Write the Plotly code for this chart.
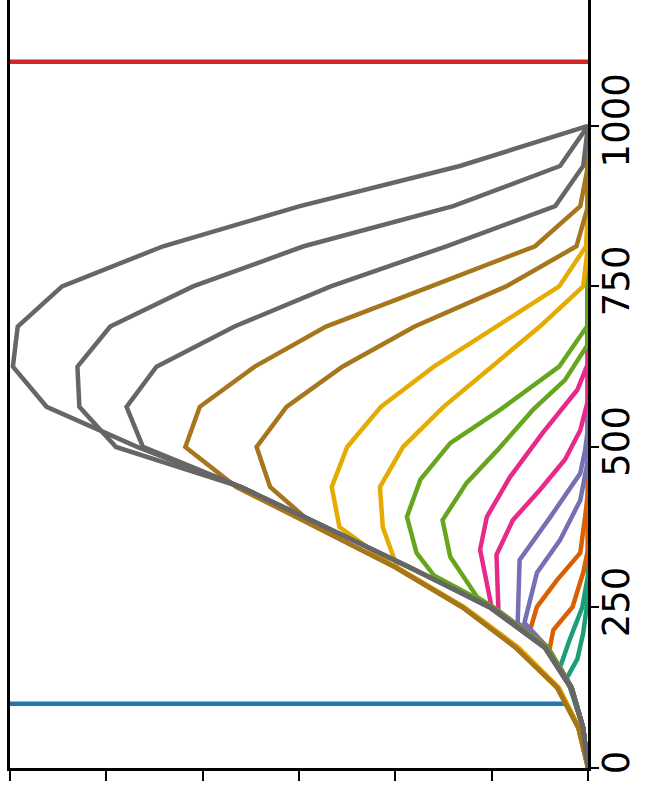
import numpy as np
import plotly.graph_objects as go

# Common sample positions used by the outer curves
t_grid = [0, 62.5, 125, 187.5, 250, 312.5, 375, 437.5, 500, 562.5,
          625, 687.5, 750, 812.5, 875, 937.5, 1000]

# Inner curves carry their own sample positions (innermost first)
t_00 = [0, 62.5, 140, 170, 210, 265]
v_00 = [0, .05, .22, .11, .05, 0]
t_01 = [0, 62.5, 125, 157, 200, 250, 300]
v_01 = [0, .05, .17, .29, .19, .06, 0]
t_02 = [0, 62.5, 125, 184, 215, 251, 304, 340]
v_02 = [0, .05, .17, .40, .36, .16, .05, 0]
t_03 = [0, 62.5, 125, 187.5, 215, 251, 293, 335, 391, 430]
v_03 = [0, .05, .17, .42, .60, .53, .32, .08, .03, 0]
t_04 = [0, 62.5, 125, 187.5, 226, 304, 355, 417, 480]
v_04 = [0, .05, .17, .42, .66, .53, .29, .08, 0]
t_05 = [0, 62.5, 125, 187.5, 226, 324, 391, 459, 495, 530]
v_05 = [0, .05, .17, .42, .73, .71, .39, .08, .03, 0]
t_06 = [0, 62.5, 125, 187.5, 245, 332, 386, 433, 480, 526, 573]
v_06 = [0, .05, .17, .42, .93, .95, .78, .50, .24, .08, 0]
t_07 = [0, 62.5, 125, 187.5, 250, 340, 391, 453, 522, 589, 630]
v_07 = [0, .05, .17, .42, 1.0, 1.12, 1.05, .81, .47, .11, 0]
t_08 = [0, 62.5, 125, 187.5, 250, 266, 329, 386, 444, 495, 558, 604, 660]
v_08 = [0, .05, .17, .42, .98, 1.15, 1.43, 1.51, 1.26, .94, .57, .24, 0]
t_09 = [0, 62.5, 125, 187.5, 250, 300, 335, 391, 449, 506, 558, 625, 690]
v_09 = [0, .05, .17, .42, .98, 1.6, 1.78, 1.88, 1.74, 1.43, .91, .30, 0]

# Outer curves, sampled on t_grid
v_10 = [0, .09, .30, .72, 1.28, 1.98, 2.13, 2.16, 1.92, 1.5, 1.0, .5, .05, 0]
v_11 = [0, .10, .32, .75, 1.30, 2.00, 2.58, 2.66, 2.5, 2.15, 1.6, .95, .3, .02, 0]
v_12 = [0, .10, .32, .75, 1.30, 2.00, 2.82, 3.3, 3.44, 3.13, 2.55, 1.8, .85, .12, 0]
v_13 = [0, .10, .32, .75, 1.30, 2.00, 2.82, 3.65, 4.18, 4.03, 3.46, 2.72, 1.63, .55, .08, 0]
v_14 = [0, .05, .18, .45, 1.02, 1.85, 2.72, 3.6, 4.62, 4.79, 4.48, 3.67, 2.67, 1.47, .34, .05, 0]
v_15 = [0, .05, .18, .45, 1.02, 1.85, 2.72, 3.6, 4.9, 5.28, 5.30, 4.96, 4.1, 2.95, 1.40, .29, 0]
v_16 = [0, .05, .17, .44, 1.00, 1.85, 2.72, 3.6, 4.68, 5.62, 5.97, 5.92, 5.46, 4.41, 2.99, 1.33, 0]

curves = [(t_00, v_00), (t_01, v_01), (t_02, v_02), (t_03, v_03), (t_04, v_04),
          (t_05, v_05), (t_06, v_06), (t_07, v_07), (t_08, v_08), (t_09, v_09),
          (t_grid[:len(v_10)], v_10), (t_grid[:len(v_11)], v_11),
          (t_grid[:len(v_12)], v_12), (t_grid[:len(v_13)], v_13),
          (t_grid[:len(v_14)], v_14), (t_grid[:len(v_15)], v_15),
          (t_grid[:len(v_16)], v_16)]

# Reference levels
lower_level = 100
upper_level = 1100

# Axis ticks
t_ticks = [0, 250, 500, 750, 1000]
v_ticks = [0, 1, 2, 3, 4, 5, 6]

# Dark2 palette, sampled across the curves like a continuous colormap
dark2 = ["#1b9e77", "#d95f02", "#7570b3", "#e7298a",
         "#66a61e", "#e6ab02", "#a6761d", "#666666"]
n = len(curves)
t_end = max(t_grid)

fig = go.Figure()

# Lower level line runs from the left edge until it meets the curves
v_at_lower = max(float(np.interp(lower_level, t, v)) for t, v in curves)
fig.add_trace(go.Scatter(x=[max(v_ticks), v_at_lower], y=[lower_level, lower_level],
                         mode="lines", line=dict(color="#1f77b4", width=4.5),
                         hoverinfo="skip", showlegend=False))
fig.add_trace(go.Scatter(x=[max(v_ticks), min(v_ticks)], y=[upper_level, upper_level],
                         mode="lines", line=dict(color="#d62728", width=4.5),
                         hoverinfo="skip", showlegend=False))

for i, (t, v) in enumerate(curves):
    tt, vv = list(t), list(v)
    if tt[-1] < t_end:
        # the curve stays at zero for the rest of the range
        tt.append(t_end)
        vv.append(0)
    color = dark2[min(int(i / (n - 1) * 8), 7)]
    fig.add_trace(go.Scatter(x=vv, y=tt, mode="lines",
                             line=dict(color=color, width=4.5),
                             showlegend=False))

axis_font = dict(family="DejaVu Sans", size=37, color="black")

fig.update_layout(
    width=647, height=796,
    margin=dict(l=10, r=59, t=0, b=28, pad=0),
    paper_bgcolor="white", plot_bgcolor="white",
    showlegend=False,
    xaxis=dict(range=[max(v_ticks), min(v_ticks)], tickvals=v_ticks,
               showticklabels=False, ticks="outside", ticklen=10, tickwidth=2,
               tickcolor="black", showline=True, linecolor="black", linewidth=3,
               mirror=True, showgrid=False, zeroline=False, automargin=False),
    yaxis=dict(range=[0, 1196], tickvals=t_ticks, ticktext=[str(t) for t in t_ticks],
               side="right", tickangle=-90, tickfont=axis_font,
               ticklabelstandoff=-14,
               ticks="outside", ticklen=8, tickwidth=2, tickcolor="black",
               showline=True, linecolor="black", linewidth=3, mirror=True,
               showgrid=False, zeroline=False, automargin=False),
)

fig.write_html("out.html")
